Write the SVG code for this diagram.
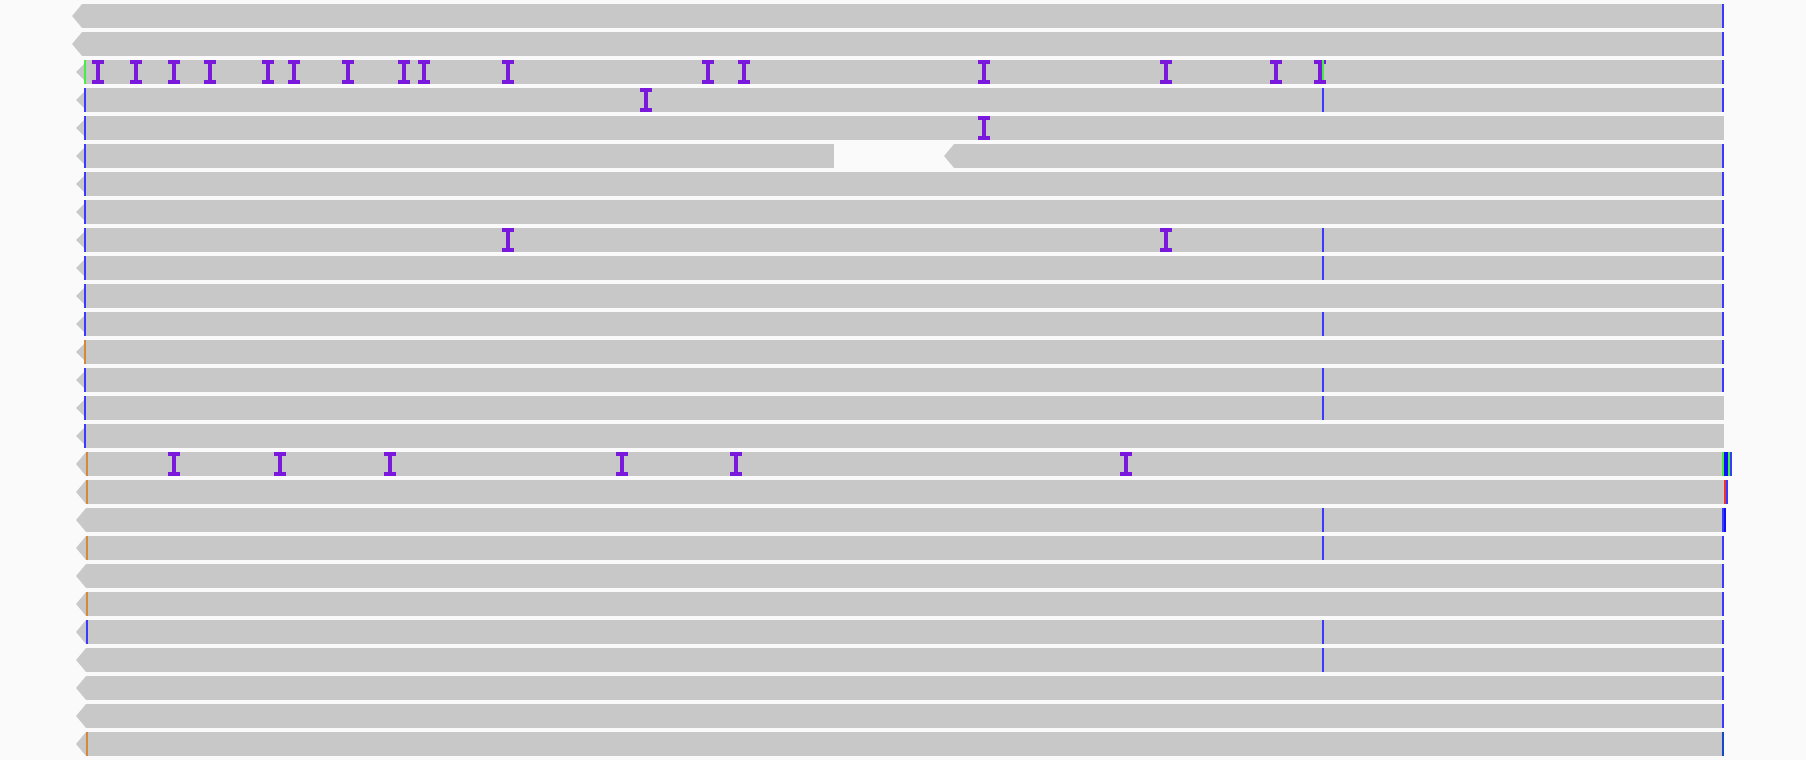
<svg xmlns="http://www.w3.org/2000/svg" xmlns:xlink="http://www.w3.org/1999/xlink" width="1806" height="760" viewBox="0 0 1806 760">
<style>
.r{fill:#c8c8c8}
.b{fill:#3a3aff}
.bd{fill:#1010ff}
.bk{fill:#1448c8}
.g{fill:#44ee44}
.o{fill:#d4883a}
.red{fill:#ee3333}
.p{fill:#7a18dc}
</style>
<defs>
<path id="ins" class="p" d="M0 0h12v4h-4v16h4v4h-12v-4h4v-16h-4z"/>
</defs>
<rect width="1806" height="760" fill="#fafafa"/>

<g id="read0">
<polygon class="r" points="82,4 1722,4 1722,28 82,28 72,16"/>
<rect class="b" x="1722" y="4" width="2" height="24"/>
</g>
<g id="read1">
<polygon class="r" points="82,32 1722,32 1722,56 82,56 72,44"/>
<rect class="b" x="1722" y="32" width="2" height="24"/>
</g>
<g id="read2">
<polygon class="r" points="84,60 1722,60 1722,84 84,84 84,80 76,72 84,64"/>
<rect class="g" x="84" y="60" width="2" height="24"/>
<use href="#ins" x="92" y="60"/><use href="#ins" x="130" y="60"/><use href="#ins" x="168" y="60"/><use href="#ins" x="204" y="60"/>
<use href="#ins" x="262" y="60"/><use href="#ins" x="288" y="60"/><use href="#ins" x="342" y="60"/><use href="#ins" x="398" y="60"/>
<use href="#ins" x="418" y="60"/><use href="#ins" x="502" y="60"/><use href="#ins" x="702" y="60"/><use href="#ins" x="738" y="60"/>
<use href="#ins" x="978" y="60"/><use href="#ins" x="1160" y="60"/><use href="#ins" x="1270" y="60"/><use href="#ins" x="1314" y="60"/>
<rect class="g" x="1322" y="60" width="2" height="20"/>
<rect class="b" x="1722" y="60" width="2" height="24"/>
</g>
<g id="read3">
<polygon class="r" points="84,88 1722,88 1722,112 84,112 84,108 76,100 84,92"/>
<rect class="b" x="84" y="88" width="2" height="24"/>
<use href="#ins" x="640" y="88"/>
<rect class="b" x="1322" y="88" width="2" height="24"/>
<rect class="b" x="1722" y="88" width="2" height="24"/>
</g>
<g id="read4">
<polygon class="r" points="84,116 1724,116 1724,140 84,140 84,136 76,128 84,120"/>
<rect class="b" x="84" y="116" width="2" height="24"/>
<use href="#ins" x="978" y="116"/>
</g>
<g id="read5a">
<polygon class="r" points="84,144 834,144 834,168 84,168 84,164 76,156 84,148"/>
<rect class="b" x="84" y="144" width="2" height="24"/>
</g>
<g id="read5b">
<polygon class="r" points="954,144 1722,144 1722,168 954,168 944,156"/>
<rect class="b" x="1722" y="144" width="2" height="24"/>
</g>
<g id="read6">
<polygon class="r" points="84,172 1722,172 1722,196 84,196 84,192 76,184 84,176"/>
<rect class="b" x="84" y="172" width="2" height="24"/>
<rect class="b" x="1722" y="172" width="2" height="24"/>
</g>
<g id="read7">
<polygon class="r" points="84,200 1722,200 1722,224 84,224 84,220 76,212 84,204"/>
<rect class="b" x="84" y="200" width="2" height="24"/>
<rect class="b" x="1722" y="200" width="2" height="24"/>
</g>
<g id="read8">
<polygon class="r" points="84,228 1722,228 1722,252 84,252 84,248 76,240 84,232"/>
<rect class="b" x="84" y="228" width="2" height="24"/>
<use href="#ins" x="502" y="228"/><use href="#ins" x="1160" y="228"/>
<rect class="b" x="1322" y="228" width="2" height="24"/>
<rect class="b" x="1722" y="228" width="2" height="24"/>
</g>
<g id="read9">
<polygon class="r" points="84,256 1722,256 1722,280 84,280 84,276 76,268 84,260"/>
<rect class="b" x="84" y="256" width="2" height="24"/>
<rect class="b" x="1322" y="256" width="2" height="24"/>
<rect class="b" x="1722" y="256" width="2" height="24"/>
</g>
<g id="read10">
<polygon class="r" points="84,284 1722,284 1722,308 84,308 84,304 76,296 84,288"/>
<rect class="b" x="84" y="284" width="2" height="24"/>
<rect class="b" x="1722" y="284" width="2" height="24"/>
</g>
<g id="read11">
<polygon class="r" points="84,312 1722,312 1722,336 84,336 84,332 76,324 84,316"/>
<rect class="b" x="84" y="312" width="2" height="24"/>
<rect class="b" x="1322" y="312" width="2" height="24"/>
<rect class="b" x="1722" y="312" width="2" height="24"/>
</g>
<g id="read12">
<polygon class="r" points="84,340 1722,340 1722,364 84,364 84,360 76,352 84,344"/>
<rect class="o" x="84" y="340" width="2" height="24"/>
<rect class="b" x="1722" y="340" width="2" height="24"/>
</g>
<g id="read13">
<polygon class="r" points="84,368 1722,368 1722,392 84,392 84,388 76,380 84,372"/>
<rect class="b" x="84" y="368" width="2" height="24"/>
<rect class="b" x="1322" y="368" width="2" height="24"/>
<rect class="b" x="1722" y="368" width="2" height="24"/>
</g>
<g id="read14">
<polygon class="r" points="84,396 1724,396 1724,420 84,420 84,416 76,408 84,400"/>
<rect class="b" x="84" y="396" width="2" height="24"/>
<rect class="b" x="1322" y="396" width="2" height="24"/>
</g>
<g id="read15">
<polygon class="r" points="84,424 1724,424 1724,448 84,448 84,444 76,436 84,428"/>
<rect class="b" x="84" y="424" width="2" height="24"/>
</g>
<g id="read16">
<polygon class="r" points="86,452 1722,452 1722,476 86,476 76,464"/>
<rect class="o" x="86" y="452" width="2" height="24"/>
<use href="#ins" x="168" y="452"/><use href="#ins" x="274" y="452"/><use href="#ins" x="384" y="452"/>
<use href="#ins" x="616" y="452"/><use href="#ins" x="730" y="452"/><use href="#ins" x="1120" y="452"/>
<rect class="g" x="1722" y="452" width="2" height="24"/>
<rect class="bd" x="1724" y="452" width="4" height="24"/>
<rect class="g" x="1728" y="452" width="2" height="24"/>
<rect class="b" x="1730" y="452" width="2" height="24"/>
</g>
<g id="read17">
<polygon class="r" points="86,480 1724,480 1724,504 86,504 76,492"/>
<rect class="o" x="86" y="480" width="2" height="24"/>
<rect class="red" x="1724" y="480" width="2" height="24"/>
<rect class="b" x="1726" y="480" width="2" height="24"/>
</g>
<g id="read18">
<polygon class="r" points="86,508 1722,508 1722,532 86,532 76,520"/>
<rect class="b" x="1322" y="508" width="2" height="24"/>
<rect class="b" x="1722" y="508" width="2" height="24"/>
<rect class="bd" x="1724" y="508" width="2" height="24"/>
</g>
<g id="read19">
<polygon class="r" points="86,536 1722,536 1722,560 86,560 76,548"/>
<rect class="o" x="86" y="536" width="2" height="24"/>
<rect class="b" x="1322" y="536" width="2" height="24"/>
<rect class="b" x="1722" y="536" width="2" height="24"/>
</g>
<g id="read20">
<polygon class="r" points="86,564 1722,564 1722,588 86,588 76,576"/>
<rect class="b" x="1722" y="564" width="2" height="24"/>
</g>
<g id="read21">
<polygon class="r" points="86,592 1722,592 1722,616 86,616 76,604"/>
<rect class="o" x="86" y="592" width="2" height="24"/>
<rect class="b" x="1722" y="592" width="2" height="24"/>
</g>
<g id="read22">
<polygon class="r" points="86,620 1722,620 1722,644 86,644 76,632"/>
<rect class="b" x="86" y="620" width="2" height="24"/>
<rect class="b" x="1322" y="620" width="2" height="24"/>
<rect class="b" x="1722" y="620" width="2" height="24"/>
</g>
<g id="read23">
<polygon class="r" points="86,648 1722,648 1722,672 86,672 76,660"/>
<rect class="b" x="1322" y="648" width="2" height="24"/>
<rect class="b" x="1722" y="648" width="2" height="24"/>
</g>
<g id="read24">
<polygon class="r" points="86,676 1722,676 1722,700 86,700 76,688"/>
<rect class="b" x="1722" y="676" width="2" height="24"/>
</g>
<g id="read25">
<polygon class="r" points="86,704 1722,704 1722,728 86,728 76,716"/>
<rect class="b" x="1722" y="704" width="2" height="24"/>
</g>
<g id="read26">
<polygon class="r" points="86,732 1722,732 1722,756 86,756 76,744"/>
<rect class="o" x="86" y="732" width="2" height="24"/>
<rect class="bk" x="1722" y="732" width="2" height="24"/>
</g>
</svg>
